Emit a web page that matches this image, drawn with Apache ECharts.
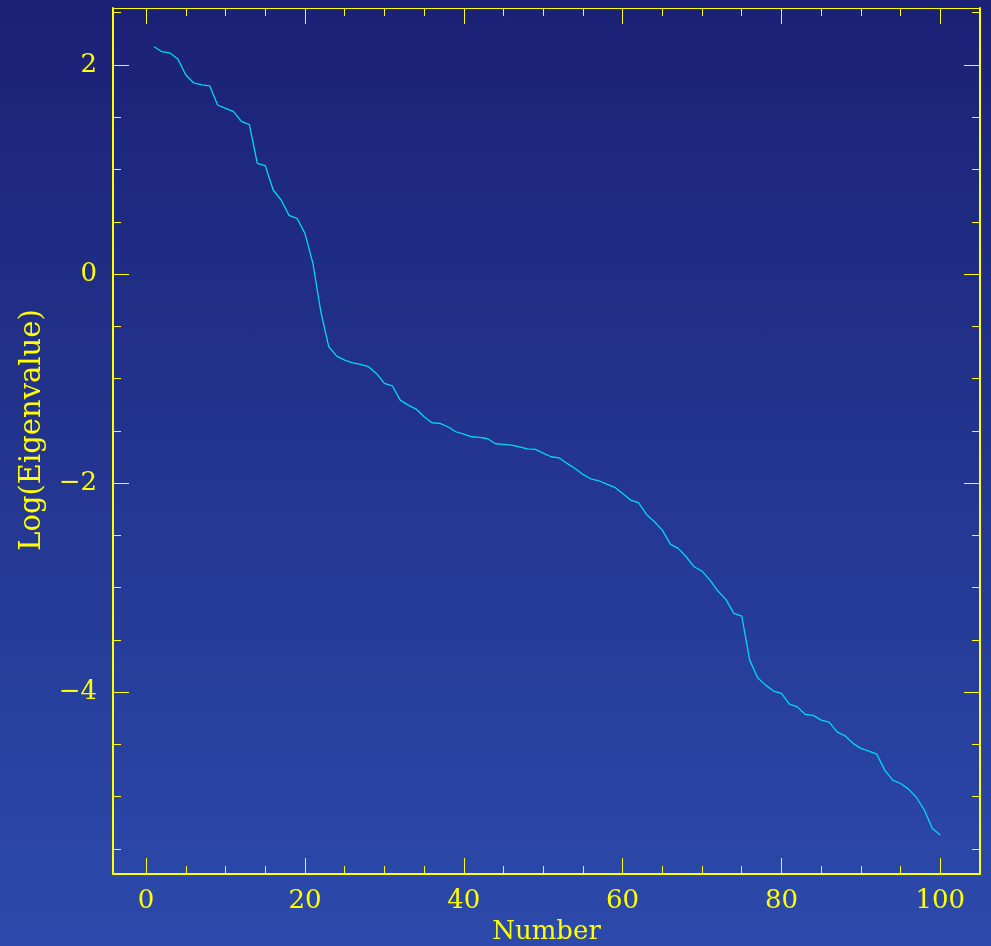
<!DOCTYPE html>
<html>
<head>
<meta charset="utf-8">
<script src="https://cdn.jsdelivr.net/npm/echarts@6/dist/echarts.min.js"></script>
<style>
html,body{margin:0;padding:0;}
#c{width:991px;height:946px;background:linear-gradient(to bottom,#1b2175 0%,#2c4aab 100%);}
</style>
</head>
<body>
<div id="c"></div>
<script>
var numbers = [];
for (var i = 1; i <= 100; i++) numbers.push(i);
var logEigen = [
 2.175, 2.127, 2.115, 2.057, 1.904, 1.828, 1.810, 1.800, 1.617, 1.585,
 1.553, 1.461, 1.429, 1.059, 1.036, 0.804, 0.708, 0.561, 0.533, 0.389,
 0.102, -0.361, -0.696, -0.785, -0.823, -0.849, -0.865, -0.887, -0.951, -1.046,
 -1.069, -1.206, -1.254, -1.292, -1.365, -1.423, -1.429, -1.461, -1.509, -1.531,
 -1.557, -1.563, -1.576, -1.624, -1.630, -1.636, -1.653, -1.672, -1.678, -1.713,
 -1.748, -1.758, -1.812, -1.860, -1.917, -1.959, -1.978, -2.010, -2.041, -2.099,
 -2.163, -2.188, -2.300, -2.370, -2.450, -2.584, -2.625, -2.705, -2.801, -2.842,
 -2.928, -3.033, -3.113, -3.247, -3.273, -3.694, -3.863, -3.933, -3.990, -4.013,
 -4.115, -4.141, -4.214, -4.223, -4.268, -4.287, -4.380, -4.418, -4.490, -4.538,
 -4.565, -4.593, -4.746, -4.842, -4.874, -4.928, -5.008, -5.129, -5.304, -5.368
];
var xMajorTicks = [0, 20, 40, 60, 80, 100];
var xMinorTicks = [5, 10, 15, 25, 30, 35, 45, 50, 55, 65, 70, 75, 85, 90, 95];
var yMajorTicks = [-4, -2, 0, 2];
var yMinorTicks = [-5.5, -5, -4.5, -3.5, -3, -2.5, -1.5, -1, -0.5, 0.5, 1, 1.5, 2.5];
var xName = 'Number';
var yName = 'Log(Eigenvalue)';

var X_MIN = -4.17, X_MAX = 105.0, Y_MIN = -5.74, Y_MAX = 2.545;
var YEL = '#ffff00';
var FONT = '"DejaVu Serif", "Liberation Serif", serif';

function xAx(pos, ticks, len, showLine, lineW, showLabel) {
  return {
    type: 'value', position: pos, min: X_MIN, max: X_MAX,
    axisLine: {show: showLine, onZero: false, lineStyle: {color: YEL, width: lineW}},
    axisTick: {show: true, inside: true, length: len, customValues: ticks, lineStyle: {color: YEL, width: 1}},
    axisLabel: showLabel ? {show: true, customValues: ticks, color: YEL, fontFamily: FONT, fontSize: 26, margin: 14,
      formatter: function (v) { return String(v); }} : {show: false},
    splitLine: {show: false},
    name: showLabel ? xName : '', nameLocation: 'middle', nameGap: 44,
    nameTextStyle: {color: YEL, fontFamily: FONT, fontSize: 26}
  };
}
function yAx(pos, ticks, len, showLine, lineW, showLabel) {
  return {
    type: 'value', position: pos, min: Y_MIN, max: Y_MAX,
    axisLine: {show: showLine, onZero: false, lineStyle: {color: YEL, width: lineW}},
    axisTick: {show: true, inside: true, length: len, customValues: ticks, lineStyle: {color: YEL, width: 1}},
    axisLabel: showLabel ? {show: true, customValues: ticks, color: YEL, fontFamily: FONT, fontSize: 26, margin: 16,
      formatter: function (v) { return v < 0 ? '\u2212' + Math.abs(v) : String(v); }} : {show: false},
    splitLine: {show: false},
    name: showLabel ? yName : '', nameLocation: 'middle', nameGap: 66,
    nameTextStyle: {color: YEL, fontFamily: FONT, fontSize: 29, padding: [0, 0, 0, 22]}
  };
}

var chart = echarts.init(document.getElementById('c'), null, {renderer: 'canvas'});
chart.setOption({
  backgroundColor: 'transparent',
  animation: false,
  grid: {left: 113, right: 11, top: 8, bottom: 72, containLabel: false, outerBoundsMode: 'none'},
  xAxis: [
    xAx('bottom', xMajorTicks, 16, true, 2, true),
    xAx('bottom', xMinorTicks, 8, false, 1, false),
    xAx('top', xMajorTicks, 16, true, 1, false),
    xAx('top', xMinorTicks, 8, false, 1, false)
  ],
  yAxis: [
    yAx('left', yMajorTicks, 16, true, 2, true),
    yAx('left', yMinorTicks, 8, false, 1, false),
    yAx('right', yMajorTicks, 16, true, 2, false),
    yAx('right', yMinorTicks, 8, false, 1, false)
  ],
  series: [{
    type: 'line',
    xAxisIndex: 0, yAxisIndex: 0,
    data: numbers.map(function (n, i) { return [n, logEigen[i]]; }),
    showSymbol: false,
    lineStyle: {color: '#00d8f4', width: 1.3},
    silent: true
  }]
});
</script>
</body>
</html>
